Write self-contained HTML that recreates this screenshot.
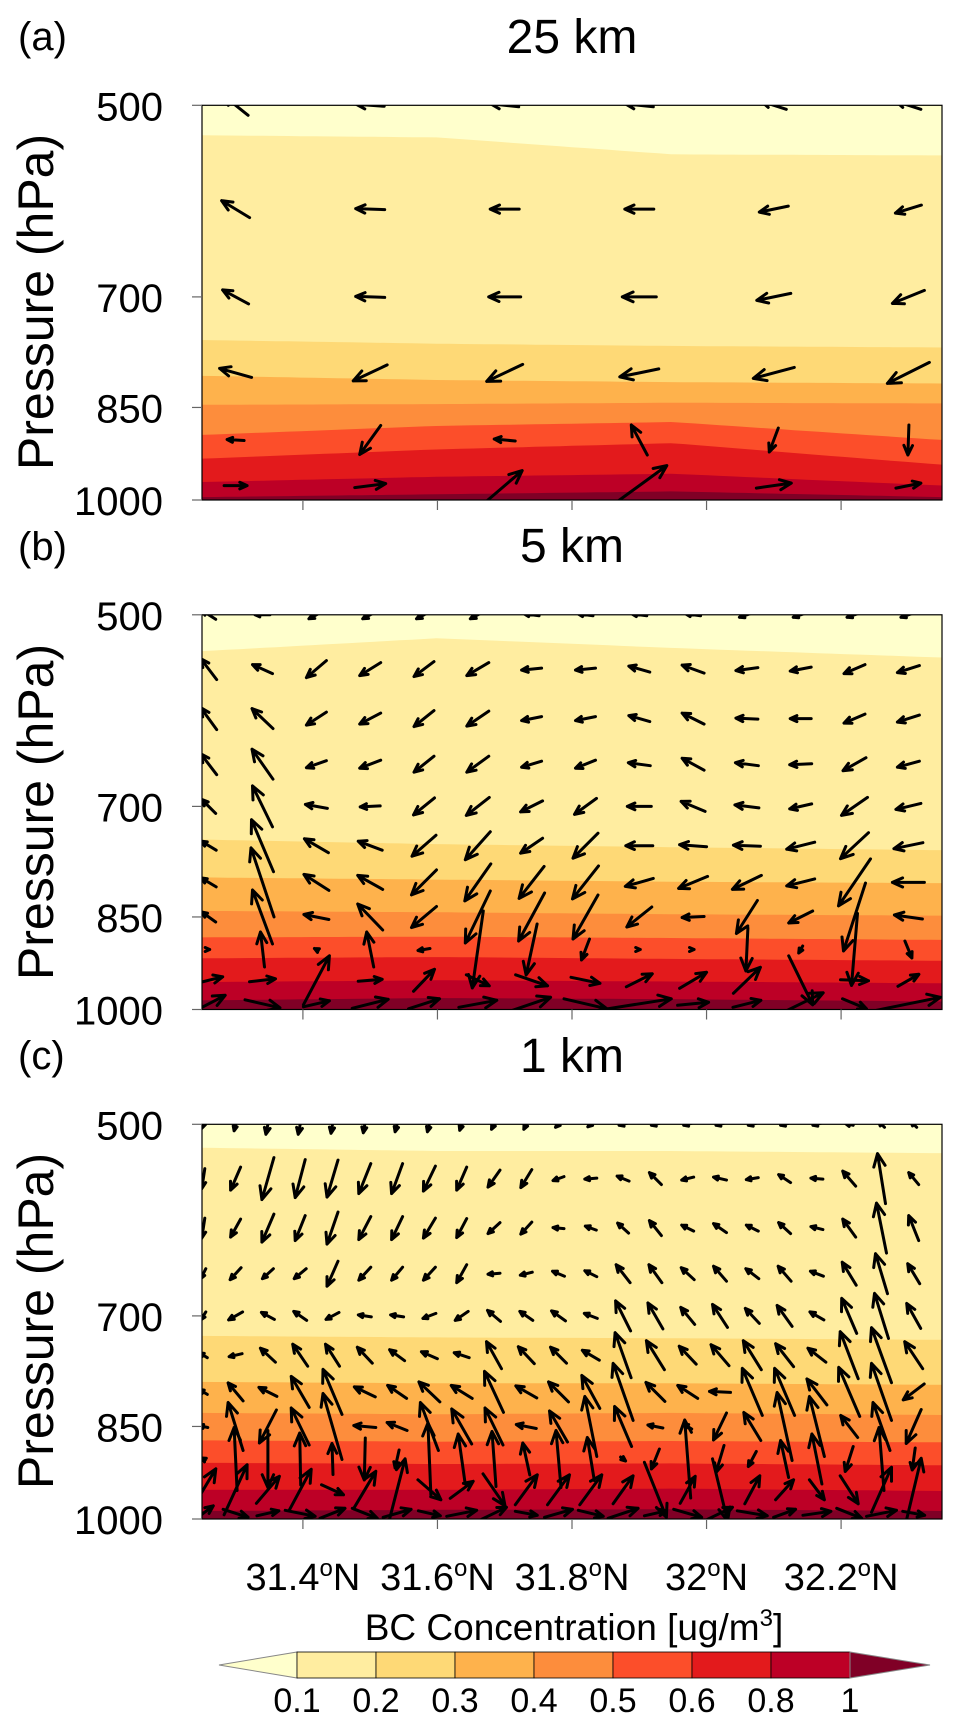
<!DOCTYPE html>
<html><head><meta charset="utf-8"><style>
html,body{margin:0;padding:0;background:#fff}
svg{display:block}
text{font-family:"Liberation Sans",sans-serif;fill:#000}
</style></head><body>
<svg id="fig" xmlns="http://www.w3.org/2000/svg" width="961" height="1730" viewBox="0 0 961 1730">
<defs>
<clipPath id="clip0"><rect x="202" y="105.3" width="740" height="394.7"/></clipPath>
<clipPath id="clip1"><rect x="202" y="614.8" width="740" height="394.7"/></clipPath>
<clipPath id="clip2"><rect x="202" y="1124.3" width="740" height="394.7"/></clipPath>
</defs>
<g id="layers"></g>
<g>
<text x="18" y="50" font-size="40">(a)</text>
<text x="18" y="560" font-size="40">(b)</text>
<text x="18" y="1069" font-size="40">(c)</text>
<text x="572" y="53" font-size="48" text-anchor="middle">25 km</text>
<text x="572" y="562" font-size="48" text-anchor="middle">5 km</text>
<text x="572" y="1072" font-size="48" text-anchor="middle">1 km</text>
<text transform="translate(53,302) rotate(-90)" font-size="50" text-anchor="middle">Pressure (hPa)</text>
<text transform="translate(53,812) rotate(-90)" font-size="50" text-anchor="middle">Pressure (hPa)</text>
<text transform="translate(53,1321) rotate(-90)" font-size="50" text-anchor="middle">Pressure (hPa)</text>
</g>
<text x="574" y="1640" font-size="37" text-anchor="middle">BC Concentration [ug/m<tspan dy="-14" font-size="24">3</tspan><tspan dy="14">]</tspan></text>
<g id="colorbar"></g>
</svg>
<script>
// ---- data ----
const panelTops = [105.3, 614.8, 1124.3];
const yTickValues = [500, 700, 850, 1000];
const xTickValues = [31.4, 31.6, 31.8, 32.0, 32.2];
const xTickLabels = ['31.4', '31.6', '31.8', '32', '32.2'];
const bandLats = [31.25, 31.6, 31.95, 32.35];
// contour boundary pressures (hPa) for levels 0.1,0.2,0.3,0.4,0.5,0.6,0.8,1 at bandLats
const bandsA = [[527,529,545,546],[755,760,763,765],[804,810,813,815],[846,845,843,844],[892,878,872,900],[930,915,905,940],[969,960,955,975],[995,990,985,995]];
const bandsB = [[533,521,530,539],[742,748,752,756],[793,796,799,801],[841,843,846,848],[881,880,882,885],[914,912,915,918],[953,950,952,955],[984,980,982,986]];
const bandsC = [[521,524,524,526],[725,727,728,730],[786,788,788,790],[830,832,830,833],[871,873,872,874],[906,908,907,910],[950,950,948,952],[986,984,983,986]];
const cbLabels = ['0.1','0.2','0.3','0.4','0.5','0.6','0.8','1'];
// vector grids
const latsA = [31.3,31.5,31.7,31.9,32.1,32.3];
const levsA = [500,600,700,800,900,975];
const uA = [[-25,-28,-28,-28,-25,-25],[-28,-29,-29,-29,-29,-26],[-26,-29,-32,-34,-34,-32],[-32,-34,-36,-39,-41,-42],[-17,-21,-21,-16,-9,-1],[23,31,35,55,35,25]];
const wA = [[20,2,3,3,8,8],[17,1,0,0,-6,-8],[14,1,0,0,-7,-13],[9,-16,-17,-8,-11,-21],[1,-29,2,30,-24,-30],[0,4,30,40,5,5]];
const latsB = [31.26,31.34,31.42,31.50,31.58,31.66,31.74,31.82,31.90,31.98,32.06,32.14,32.22,32.30];
const levsB = [500,550,600,650,700,750,800,850,900,950,990];
const uB = [
[-14,-15,-15,-15,-15,-15,-15,-15,-15,-15,-15,-15,-15,-15],
[-16,-20,-20,-21,-20,-22,-20,-20,-21,-22,-22,-21,-21,-22],
[-16,-21,-20,-21,-20,-22,-20,-20,-21,-22,-22,-21,-21,-22],
[-16,-21,-20,-21,-20,-22,-20,-20,-22,-22,-23,-22,-23,-22],
[-14,-20,-22,-20,-21,-23,-22,-22,-24,-24,-24,-22,-26,-25],
[-15,-22,-24,-24,-24,-25,-22,-25,-27,-27,-27,-28,-28,-29],
[-15,-23,-25,-25,-25,-26,-25,-26,-28,-29,-29,-28,-32,-32],
[-14,-20,-25,-25,-25,-25,-26,-25,-25,-22,-21,-24,-22,-28],
[2,-4,-4,-7,-12,-11,-11,-8,2,2,-2,-4,-6,7],
[28,26,26,24,21,23,32,29,26,27,27,24,28,21],
[33,35,26,36,31,38,38,43,64,31,28,45,24,64]];
const wB = [
[9,0,-8,-8,-8,-8,2,2,2,2,-5,-5,-5,-5],
[21,9,-17,-13,-15,-13,-2,-2,6,8,-3,-4,-9,-7],
[22,20,-13,-11,-16,-15,-4,-4,6,11,1,0,-9,-7],
[21,30,-7,-8,-16,-16,-6,-8,3,12,3,-1,-13,-6],
[14,41,4,-1,-17,-18,-11,-16,0,10,3,-5,-18,-6],
[9,52,14,9,-21,-28,-15,-25,0,2,1,-7,-26,-6],
[9,69,16,14,-25,-37,-32,-33,-8,-12,-14,-7,-47,0],
[10,54,5,26,-21,-52,-48,-44,-20,-1,-33,-12,-68,4],
[0,35,2,35,-2,-77,-51,-21,0,0,-43,-7,-72,-17],
[7,3,49,2,22,-11,-11,-6,13,16,26,-49,-1,12],
[17,-8,6,9,10,7,13,-10,10,3,7,22,-10,13]];
const latsC = [31.252,31.300,31.348,31.396,31.444,31.492,31.540,31.588,31.636,31.684,31.732,31.780,31.828,31.876,31.924,31.972,32.020,32.068,32.116,32.164,32.212,32.260,32.308];
const levsC = [500,550,600,650,700,750,800,850,900,950,990];
const uC = [
[-3,-3,-4,-4,-3,-3,-4,-4,-4,-5,-5,-6,-6,-8,-8,-8,-8,-8,-8,-8,-8,-6,-6],
[-3,-10,-12,-10,-11,-12,-11,-12,-10,-12,-11,-11,-12,-12,-12,-12,-13,-12,-12,-12,-13,-8,-10],
[-3,-10,-12,-10,-11,-12,-11,-12,-10,-12,-11,-11,-11,-11,-12,-12,-13,-12,-12,-12,-13,-10,-10],
[-5,-11,-11,-12,-11,-12,-11,-12,-10,-12,-12,-12,-12,-14,-13,-13,-13,-13,-13,-13,-14,-12,-12],
[-5,-14,-13,-13,-13,-13,-13,-13,-13,-13,-13,-14,-13,-15,-15,-14,-15,-14,-15,-14,-15,-14,-14],
[-8,-13,-15,-15,-14,-15,-15,-16,-15,-15,-16,-16,-17,-16,-18,-17,-18,-18,-18,-18,-18,-20,-18],
[-8,-15,-18,-18,-19,-21,-19,-21,-21,-19,-21,-20,-18,-20,-19,-20,-21,-20,-20,-20,-21,-20,-21],
[-9,-15,-17,-18,-19,-22,-20,-18,-20,-18,-20,-18,-12,-17,-15,-8,-13,-17,-15,-15,-17,-17,-15],
[-4,-3,0,-1,-1,-1,-4,-3,-7,-4,-7,-5,-7,5,-8,-6,-8,-8,-8,-10,-8,-5,-3],
[25,23,23,22,22,22,16,23,23,22,22,22,22,20,22,15,15,15,18,15,18,20,15],
[20,25,22,30,25,25,28,22,30,25,22,28,25,30,22,28,25,30,22,28,25,30,22]];
const wC = [
[-8,-13,-20,-20,-18,-17,-15,-15,-12,-10,-10,-6,-5,-2,-2,-2,-2,-2,-2,-2,2,6,6],
[-20,-23,-42,-38,-37,-30,-30,-25,-23,-17,-18,-4,-1,5,12,-3,3,-2,8,1,15,50,12],
[-20,-18,-28,-25,-32,-23,-23,-20,-19,-11,-12,1,4,10,15,6,9,6,11,3,18,50,25],
[-10,-12,-10,-10,-25,-13,-13,-13,-18,-1,-3,5,6,18,18,12,15,10,15,5,23,40,20],
[-8,-8,7,9,-7,2,2,-5,-9,11,9,10,5,30,26,17,23,15,21,8,35,45,25],
[5,-3,14,22,22,16,11,7,5,27,17,16,10,45,29,18,21,29,23,14,47,55,27],
[5,18,9,31,45,10,13,20,13,41,12,20,33,57,19,13,1,47,47,26,49,57,-16],
[2,48,-33,37,66,2,8,48,35,37,4,31,60,40,3,5,-27,28,68,60,22,48,-34],
[2,63,-57,52,31,-42,-18,72,50,55,32,57,43,-4,-20,78,-27,-15,37,50,-25,63,-22],
[42,50,27,41,-10,37,62,-20,17,-32,30,30,30,28,-55,27,-62,28,20,-20,-28,45,63],
[15,-8,5,-6,10,-10,8,-5,6,12,-4,8,-6,10,5,-8,12,-5,8,4,-10,6,-4]];

// ---- styles / scales ----
const bandColors = ['#FFFFCC','#FFEDA0','#FED976','#FEB24C','#FD8D3C','#FC4E2A','#E31A1C','#BD0026','#800026'];
const NS = 'http://www.w3.org/2000/svg';
const PL = 202, PW = 740, PH = 394.7;
const VSCALE = 1.0;
function xOf(lat){ return PL + (lat - 31.25) / 1.1 * PW; }
function yOf(p, top){ return top + Math.log2(p / 500) * PH; }
function mk(tag, attrs, parent){ const e = document.createElementNS(NS, tag); for (const k in attrs) e.setAttribute(k, attrs[k]); parent.appendChild(e); return e; }
function interpP(row, lat){
  if (lat <= bandLats[0]) return row[0];
  for (let i = 0; i < bandLats.length - 1; i++) {
    if (lat <= bandLats[i+1]) { const t = (lat - bandLats[i]) / (bandLats[i+1] - bandLats[i]); return row[i] + t * (row[i+1] - row[i]); }
  }
  return row[row.length - 1];
}
const layers = document.getElementById('layers');
const panelNames = ['a','b','c'];
const allBands = [bandsA, bandsB, bandsC];
const allLats = [latsA, latsB, latsC];
const allLevs = [levsA, levsB, levsC];
const allU = [uA, uB, uC];
const allW = [wA, wB, wC];

for (let pi = 0; pi < 3; pi++) {
  const top = panelTops[pi];
  const g = mk('g', {}, layers);
  
  
  const fillG = mk('g', {'clip-path': 'url(#clip' + pi + ')'}, g);
  
  
  const base = mk('rect', {x: PL, y: top, width: PW, height: PH, fill: bandColors[8]}, fillG);
  
  
  const bands = allBands[pi];
  for (let k = bands.length - 1; k >= 0; k--) {
    let pts = [[PL - 2, top - 2], [PL + PW + 2, top - 2]];
    const N = 60;
    for (let s = N; s >= 0; s--) {
      const lat = 31.25 + 1.1 * s / N;
      pts.push([xOf(lat), yOf(interpP(bands[k], lat), top)]);
    }
    pts[pts.length - 1][0] = PL - 2; pts[2][0] = PL + PW + 2;
    const poly = mk('polygon', {points: pts.map(p => p[0].toFixed(1) + ',' + p[1].toFixed(1)).join(' '), fill: bandColors[k]}, fillG);
    
    
  }
  // vectors
  const vg = mk('g', {'clip-path': 'url(#clip' + pi + ')', stroke: '#000', 'stroke-width': 3.0, 'stroke-linecap': 'round', 'stroke-linejoin': 'round', fill: 'none'}, g);
  
  
  const lats = allLats[pi], levs = allLevs[pi], U = allU[pi], W = allW[pi];
  for (let r = 0; r < levs.length; r++) {
    for (let c = 0; c < lats.length; c++) {
      const dx = U[r][c] * VSCALE, dy = -W[r][c] * VSCALE;
      const cx = xOf(lats[c]), cy = yOf(levs[r], top);
      const len = Math.hypot(dx, dy);
      if (len < 0.5) continue;
      const x1 = cx - dx / 2, y1 = cy - dy / 2, x2 = cx + dx / 2, y2 = cy + dy / 2;
      const h = Math.max(5, Math.min(14, 0.35 * len));
      const ang = Math.atan2(dy, dx), a = 0.42;
      const hx1 = x2 - h * Math.cos(ang - a), hy1 = y2 - h * Math.sin(ang - a);
      const hx2 = x2 - h * Math.cos(ang + a), hy2 = y2 - h * Math.sin(ang + a);
      const path = mk('path', {d: 'M' + x1.toFixed(1) + ',' + y1.toFixed(1) + 'L' + x2.toFixed(1) + ',' + y2.toFixed(1) + 'M' + hx1.toFixed(1) + ',' + hy1.toFixed(1) + 'L' + x2.toFixed(1) + ',' + y2.toFixed(1) + 'L' + hx2.toFixed(1) + ',' + hy2.toFixed(1)}, vg);
      
      
    }
  }
  // frame
  const frame = mk('rect', {x: PL, y: top, width: PW, height: PH, fill: 'none', stroke: '#000', 'stroke-width': 1.2}, g);
  
  
  // y ticks
  for (let t = 0; t < yTickValues.length; t++) {
    const y = yOf(yTickValues[t], top);
    const tk = mk('line', {x1: PL - 10, x2: PL, y1: y, y2: y, stroke: '#666', 'stroke-width': 1.2}, g);
    
    
    const lb = mk('text', {x: 163, y: y + 15, 'font-size': 40, 'text-anchor': 'end'}, g);
    lb.textContent = String(yTickValues[t]);
    
    
  }
  // x ticks
  for (let t = 0; t < xTickValues.length; t++) {
    const x = xOf(xTickValues[t]);
    const tk = mk('line', {x1: x, x2: x, y1: top + PH, y2: top + PH + 10, stroke: '#666', 'stroke-width': 1.2}, g);
    
    
  }
}
// x tick labels (bottom panel only)
const svg = document.getElementById('fig');
for (let t = 0; t < xTickValues.length; t++) {
  const x = xOf(xTickValues[t]);
  const lb = mk('text', {x: x, y: 1590, 'font-size': 38, 'text-anchor': 'middle'}, svg);
  
  
  const t1 = mk('tspan', {}, lb); t1.textContent = xTickLabels[t];
  const t2 = mk('tspan', {dy: -14, 'font-size': 24}, lb); t2.textContent = 'o';
  const t3 = mk('tspan', {dy: 14}, lb); t3.textContent = 'N';
}
// colorbar
const cb = document.getElementById('colorbar');
const cbX0 = 297, cbX1 = 850, cbY0 = 1652, cbY1 = 1678, cbYm = 1665;
const step = (cbX1 - cbX0) / (cbLabels.length - 1);
const lt = mk('polygon', {points: '219,' + cbYm + ' ' + cbX0 + ',' + cbY0 + ' ' + cbX0 + ',' + cbY1, fill: bandColors[0], stroke: '#888', 'stroke-width': 1}, cb);


for (let i = 0; i < cbLabels.length - 1; i++) {
  const r = mk('rect', {x: cbX0 + i * step, y: cbY0, width: step, height: cbY1 - cbY0, fill: bandColors[i + 1], stroke: '#000', 'stroke-width': 0.8}, cb);
  
  
}
const rt = mk('polygon', {points: cbX1 + ',' + cbY0 + ' 930,' + cbYm + ' ' + cbX1 + ',' + cbY1, fill: bandColors[8], stroke: '#888', 'stroke-width': 1}, cb);


for (let i = 0; i < cbLabels.length; i++) {
  const lb = mk('text', {x: cbX0 + i * step, y: 1712, 'font-size': 34, 'text-anchor': 'middle'}, cb);
  lb.textContent = cbLabels[i];
  
  
}
</script>
</body></html>
